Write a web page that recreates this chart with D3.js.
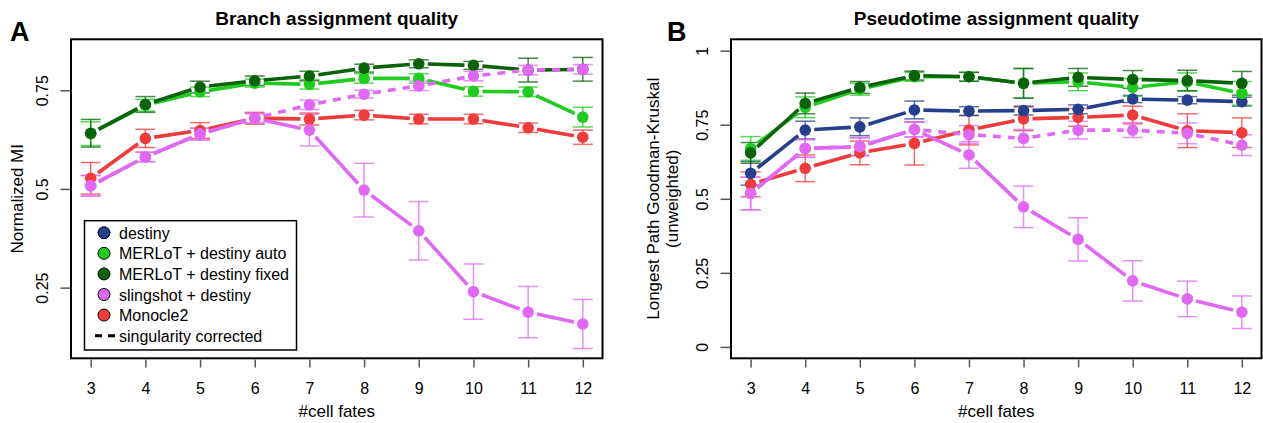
<!DOCTYPE html>
<meta charset="utf-8">
<script src="https://d3js.org/d3.v7.min.js"></script>
<style>
  body { margin: 0; background: #fff; }
  text { font-family: Helvetica, "Liberation Sans", Arial, sans-serif; }
</style>
<svg id="chart" width="1263" height="423" style="background:#fff"></svg>
<script>

// x values shared by both panels
var fates = [3, 4, 5, 6, 7, 8, 9, 10, 11, 12];

// panel A: branch assignment quality (normalized MI)
var branchMerlotAuto     = [0.640, 0.712, 0.746, 0.768, 0.765, 0.780, 0.780, 0.747, 0.746, 0.682];
var branchMerlotAutoErr  = [0.030, 0.015, 0.012, 0.010, 0.012, 0.012, 0.012, 0.012, 0.012, 0.025];
var branchMerlotFixed    = [0.641, 0.714, 0.758, 0.774, 0.786, 0.806, 0.817, 0.813, 0.801, 0.803];
var branchMerlotFixedErr = [0.035, 0.020, 0.015, 0.012, 0.012, 0.010, 0.010, 0.010, 0.030, 0.030];
var branchSling          = [0.508, 0.581, 0.639, 0.679, 0.649, 0.497, 0.394, 0.240, 0.188, 0.158];
var branchSlingErr       = [0.026, 0.012, 0.015, 0.012, 0.040, 0.068, 0.074, 0.070, 0.065, 0.062];
var branchSlingCorr      = [0.508, 0.581, 0.639, 0.679, 0.713, 0.740, 0.761, 0.786, 0.801, 0.803];
var branchSlingCorrErr   = [0.026, 0.012, 0.015, 0.012, 0.012, 0.010, 0.012, 0.012, 0.012, 0.012];
var branchMonocle        = [0.527, 0.628, 0.648, 0.679, 0.677, 0.687, 0.677, 0.677, 0.655, 0.631];
var branchMonocleErr     = [0.040, 0.023, 0.020, 0.015, 0.015, 0.012, 0.012, 0.012, 0.012, 0.018];

// panel B: pseudotime assignment quality (Goodman-Kruskal)
var pseudoDestiny        = [0.586, 0.732, 0.743, 0.800, 0.796, 0.798, 0.802, 0.837, 0.833, 0.828];
var pseudoDestinyErr     = [0.040, 0.030, 0.030, 0.030, 0.015, 0.015, 0.015, 0.012, 0.012, 0.015];
var pseudoMerlotAuto     = [0.670, 0.809, 0.870, 0.912, 0.912, 0.890, 0.895, 0.876, 0.895, 0.856];
var pseudoMerlotAutoErr  = [0.040, 0.035, 0.020, 0.015, 0.015, 0.050, 0.030, 0.030, 0.030, 0.040];
var pseudoMerlotFixed    = [0.655, 0.822, 0.876, 0.916, 0.912, 0.890, 0.910, 0.903, 0.899, 0.890];
var pseudoMerlotFixedErr = [0.035, 0.035, 0.020, 0.015, 0.015, 0.050, 0.030, 0.030, 0.035, 0.040];
var pseudoSling          = [0.518, 0.670, 0.676, 0.734, 0.648, 0.473, 0.363, 0.223, 0.162, 0.117];
var pseudoSlingErr       = [0.055, 0.030, 0.030, 0.025, 0.045, 0.070, 0.073, 0.068, 0.060, 0.055];
var pseudoSlingCorr      = [0.518, 0.670, 0.676, 0.734, 0.717, 0.704, 0.732, 0.732, 0.721, 0.681];
var pseudoSlingCorrErr   = [0.055, 0.030, 0.030, 0.025, 0.030, 0.030, 0.030, 0.025, 0.035, 0.035];
var pseudoMonocle        = [0.549, 0.603, 0.655, 0.687, 0.732, 0.770, 0.775, 0.783, 0.730, 0.723];
var pseudoMonocleErr     = [0.042, 0.045, 0.040, 0.073, 0.050, 0.040, 0.030, 0.030, 0.057, 0.050];

var ticksA = [0.25, 0.5, 0.75];
var ticksB = [0, 0.25, 0.5, 0.75, 1];
var tickLabelsA = ["0.25", "0.5", "0.75"];
var tickLabelsB = ["0", "0.25", "0.5", "0.75", "1"];

var legendNames = ["destiny", "MERLoT + destiny auto", "MERLoT + destiny fixed", "slingshot + destiny", "Monocle2"];

var col = {
  destiny: "#263f8c",
  auto: "#1fcc1f",
  fixed: "#0a620a",
  sling: "#e068f4",
  monocle: "#ee3b3b"
};
var legendColors = [col.destiny, col.auto, col.fixed, col.sling, col.monocle];

var svg = d3.select("#chart");

function drawPanel(p) {
  var g = svg.append("g");
  var x = d3.scaleLinear().domain([2.64, 12.36]).range([p.left, p.right]);
  var y = d3.scaleLinear().domain(p.ydomain).range([358.3, 39.3]);

  // error bars
  p.series.forEach(function(s) {
    var eb = g.append("g").attr("stroke", s.color).attr("stroke-opacity", 0.75).attr("stroke-width", 1.5);
    fates.forEach(function(f, i) {
      var cx = x(f), lo = y(s.values[i] - s.err[i]), hi = y(s.values[i] + s.err[i]);
      eb.append("line").attr("x1", cx).attr("x2", cx).attr("y1", lo).attr("y2", hi);
      eb.append("line").attr("x1", cx - 10).attr("x2", cx + 10).attr("y1", lo).attr("y2", lo);
      eb.append("line").attr("x1", cx - 10).attr("x2", cx + 10).attr("y1", hi).attr("y2", hi);
    });
  });

  // lines with gaps around points (type = "b") and the points
  p.series.forEach(function(s) {
    var lg = g.append("g").attr("stroke", s.color).attr("stroke-width", 3.6)
      .attr("stroke-dasharray", s.dashed ? "8,7" : null);
    var gap = 9;
    for (var i = 0; i < fates.length - 1; i++) {
      var x1 = x(fates[i]), y1 = y(s.values[i]), x2 = x(fates[i + 1]), y2 = y(s.values[i + 1]);
      var dx = x2 - x1, dy = y2 - y1, d = Math.sqrt(dx * dx + dy * dy);
      if (d <= 2 * gap) continue;
      var ux = dx / d, uy = dy / d;
      lg.append("line")
        .attr("x1", x1 + ux * gap).attr("y1", y1 + uy * gap)
        .attr("x2", x2 - ux * gap).attr("y2", y2 - uy * gap);
    }
    g.append("g").selectAll("circle")
      .data(s.values)
      .enter().append("circle")
        .attr("cx", function(d, i) { return x(fates[i]); })
        .attr("cy", function(d) { return y(d); })
        .attr("r", 5.8)
        .attr("fill", s.color);
  });

  // box
  g.append("rect")
    .attr("x", p.left).attr("y", 39.3)
    .attr("width", p.right - p.left).attr("height", 319)
    .attr("fill", "none").attr("stroke", "#000").attr("stroke-width", 2);

  // x axis
  var xa = g.append("g")
    .attr("transform", "translate(0,359.5)")
    .call(d3.axisBottom(x).tickValues(fates).tickSize(8).tickPadding(15).tickFormat(d3.format("d")));
  xa.select(".domain").remove();
  xa.selectAll(".tick line").attr("stroke", "#555").attr("stroke-width", 1.5);
  xa.selectAll("text").attr("font-size", 16).attr("fill", "#000")
    .style("font-family", "Helvetica, 'Liberation Sans', Arial, sans-serif");

  // y axis, labels parallel to the axis
  var ya = g.append("g")
    .attr("transform", "translate(" + (p.left - 0.5) + ",0)")
    .call(d3.axisLeft(y).tickValues(p.ticks).tickSize(10)
      .tickFormat(function(d, i) { return p.tickLabels[i]; }));
  ya.select(".domain").remove();
  ya.selectAll(".tick line").attr("stroke", "#555").attr("stroke-width", 1.5);
  ya.selectAll("text")
    .attr("x", 0).attr("dy", 0).attr("text-anchor", "middle")
    .attr("transform", "translate(-23,0) rotate(-90)")
    .attr("font-size", 16).attr("fill", "#000")
    .style("font-family", "Helvetica, 'Liberation Sans', Arial, sans-serif");

  // labels
  var mid = (p.left + p.right) / 2;
  g.append("text").attr("x", mid).attr("y", 25).attr("text-anchor", "middle")
    .attr("font-size", 19).attr("font-weight", "bold").text(p.title);
  g.append("text").attr("x", mid).attr("y", 417).attr("text-anchor", "middle")
    .attr("font-size", 17).text("#cell fates");
  g.append("text").attr("x", p.letterX).attr("y", 41).attr("font-size", 27)
    .attr("font-weight", "bold").text(p.letter);
  p.ylab.forEach(function(t, i) {
    g.append("text")
      .attr("transform", "translate(" + p.ylabX[i] + ",198.8) rotate(-90)")
      .attr("text-anchor", "middle").attr("font-size", 17).text(t);
  });
}

drawPanel({
  left: 71, right: 602.5, ydomain: [0.071, 0.879],
  ticks: ticksA, tickLabels: tickLabelsA,
  title: "Branch assignment quality", letter: "A", letterX: 10,
  ylab: ["Normalized MI"], ylabX: [23],
  series: [
    {values: branchMonocle, err: branchMonocleErr, color: col.monocle},
    {values: branchMerlotAuto, err: branchMerlotAutoErr, color: col.auto},
    {values: branchMerlotFixed, err: branchMerlotFixedErr, color: col.fixed},
    {values: branchSling, err: branchSlingErr, color: col.sling},
    {values: branchSlingCorr, err: branchSlingCorrErr, color: col.sling, dashed: true}
  ]
});

drawPanel({
  left: 731, right: 1261.5, ydomain: [-0.0385, 1.0385],
  ticks: ticksB, tickLabels: tickLabelsB,
  title: "Pseudotime assignment quality", letter: "B", letterX: 667,
  ylab: ["Longest Path Goodman-Kruskal", "(unweighted)"], ylabX: [659, 678],
  series: [
    {values: pseudoMonocle, err: pseudoMonocleErr, color: col.monocle},
    {values: pseudoDestiny, err: pseudoDestinyErr, color: col.destiny},
    {values: pseudoMerlotAuto, err: pseudoMerlotAutoErr, color: col.auto},
    {values: pseudoMerlotFixed, err: pseudoMerlotFixedErr, color: col.fixed},
    {values: pseudoSling, err: pseudoSlingErr, color: col.sling},
    {values: pseudoSlingCorr, err: pseudoSlingCorrErr, color: col.sling, dashed: true}
  ]
});

// legend (panel A)
var leg = svg.append("g");
leg.append("rect").attr("x", 84.5).attr("y", 220.7).attr("width", 212).attr("height", 129.3)
  .attr("fill", "#fff").attr("stroke", "#000").attr("stroke-width", 1.5);
var rowY = d3.scaleLinear().domain([0, 5]).range([232.7, 335.7]);
legendNames.forEach(function(name, i) {
  leg.append("circle").attr("cx", 104).attr("cy", rowY(i)).attr("r", 6)
    .attr("fill", legendColors[i]).attr("stroke", "#000").attr("stroke-width", 1);
  leg.append("text").attr("x", 119).attr("y", rowY(i) + 6).attr("font-size", 16).text(name);
});
leg.append("line").attr("x1", 95).attr("x2", 115).attr("y1", rowY(5)).attr("y2", rowY(5))
  .attr("stroke", "#000").attr("stroke-width", 3).attr("stroke-dasharray", "7,6");
leg.append("text").attr("x", 119).attr("y", rowY(5) + 6).attr("font-size", 16).text("singularity corrected");

</script>
